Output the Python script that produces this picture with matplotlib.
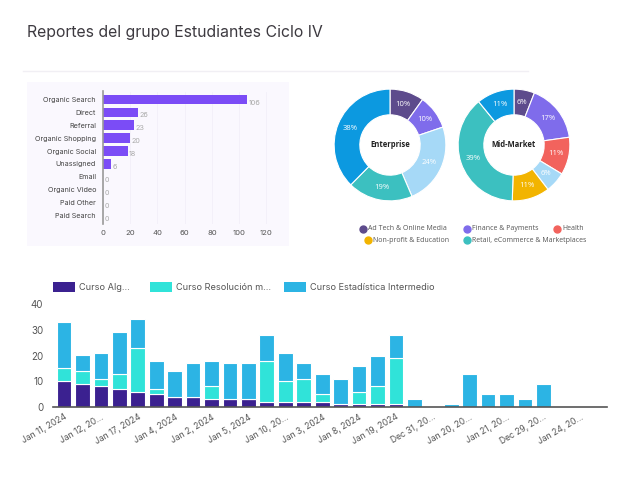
import numpy as np
import matplotlib.pyplot as plt
from matplotlib.patches import Rectangle
from matplotlib.lines import Line2D

plt.rcParams['font.family'] = ['Inter', 'DejaVu Sans']

# ---------------- datos ----------------
canales = ["Organic Search", "Direct", "Referral", "Organic Shopping",
           "Organic Social", "Unassigned", "Email", "Organic Video",
           "Paid Other", "Paid Search"]
sesiones = [106, 26, 23, 20, 18, 6, 0, 0, 0, 0]

industrias = ["Ad Tech & Online Media", "Finance & Payments", "Health",
              "(otra 1)", "Non-profit & Education",
              "Retail, eCommerce & Marketplaces", "(otra 2)"]
colores_ind = ["#5d4b8c", "#7f6ceb", "#f2635d", "#a6d9f7",
               "#f2b400", "#3cc0c0", "#0c99e0"]
enterprise = [10, 10, 0, 24, 0, 19, 38]
mid_market = [6, 17, 11, 6, 11, 39, 11]

series = ["Curso Alg…", "Curso Resolución m…", "Curso Estadística Intermedio"]
colores_series = ["#3b2190", "#30e3d9", "#2cb4e4"]
curso_alg = [10, 9, 8, 7, 6, 5, 4, 4, 3, 3, 3, 2, 2, 2, 2, 1, 1, 1, 1, 0,
             0, 0, 0, 0, 0, 0, 0, 0, 0]
curso_res = [5, 5, 3, 6, 17, 2, 0, 0, 5, 0, 0, 16, 8, 9, 3, 0, 5, 7, 18, 0,
             0, 0, 0, 0, 0, 0, 0, 0, 0]
curso_est = [18, 6, 10, 16, 11, 11, 10, 13, 10, 14, 14, 10, 11, 6, 8, 10, 10,
             12, 9, 3, 0, 1, 13, 5, 5, 3, 9, 0, 0]
fechas = ["Jan 11, 2024", "Jan 12, 20…", "Jan 17, 2024", "Jan 4, 2024",
          "Jan 2, 2024", "Jan 5, 2024", "Jan 10, 20…", "Jan 3, 2024",
          "Jan 8, 2024", "Jan 19, 2024", "Dec 31, 20…", "Jan 20, 20…",
          "Jan 21, 20…", "Dec 29, 20…", "Jan 24, 20…"]

W, H = 627, 494
fig = plt.figure(figsize=(W / 100, H / 100), dpi=100)
fig.patch.set_facecolor("white")


def box(x0, y0, x1, y1):
    # pixeles (origen arriba-izquierda) -> coordenadas de figura
    return [x0 / W, 1 - y1 / H, (x1 - x0) / W, (y1 - y0) / H]


# titulo y separador
fig.text(27 / W, 1 - 33 / H, "Reportes del grupo Estudiantes Ciclo IV",
         fontsize=11.4, color="#3d3a40", va="center", ha="left")
fig.add_artist(Line2D([23 / W, 528 / W], [1 - 71 / H, 1 - 71 / H],
                      color="#f1eff4", lw=1))

# ---------------- barras horizontales ----------------
panel = "#faf8fe"
fig.add_artist(Rectangle((27 / W, 1 - 246 / H), 262 / W, 164 / H,
                         transform=fig.transFigure, facecolor=panel,
                         edgecolor="none", zorder=0))
ax1 = fig.add_axes(box(103, 91.5, 280, 223.5))
ax1.set_facecolor(panel)
y = np.arange(len(canales))
ax1.barh(y, sesiones, height=0.72, color="#7b4cf6")
for yi, v in zip(y, sesiones):
    ax1.text(v + 1, yi + 0.25, str(v), fontsize=5.2, color="#aaaaaa",
             va="center", ha="left")
ax1.set_yticks(y)
ax1.set_yticklabels(canales, fontsize=5.2, color="#444444")
ax1.set_ylim(len(canales) - 0.4, -0.6)
ax1.set_xlim(0, 130)
ax1.set_xticks(range(0, 121, 20))
ax1.tick_params(axis="x", labelsize=5.5, colors="#555555", length=0, pad=5)
ax1.tick_params(axis="y", length=0, pad=5)
for s in ["top", "right", "bottom"]:
    ax1.spines[s].set_visible(False)
ax1.spines["left"].set_color("#9a9a9a")
ax1.spines["left"].set_linewidth(1.2)
ax1.grid(axis="x", color="#f2eff9", lw=0.6)
ax1.set_axisbelow(True)

# ---------------- donas ----------------
for valores, nombre, cx in [(enterprise, "Enterprise", 390),
                            (mid_market, "Mid-Market", 514)]:
    ax = fig.add_axes(box(cx - 57, 145 - 57, cx + 57, 145 + 57))
    vals = [v for v in valores if v > 0]
    cols = [c for v, c in zip(valores, colores_ind) if v > 0]
    ax.pie(vals, colors=cols, startangle=90, counterclock=False, radius=1,
           wedgeprops=dict(width=0.46, edgecolor="white", linewidth=0.8),
           autopct="%.0f%%", pctdistance=0.77,
           textprops=dict(color="white", fontsize=5.5, family="Open Sans"))
    ax.text(0, 0, nombre, ha="center", va="center", fontsize=5.5,
            fontweight="bold", color="#222222", family="Open Sans")
    ax.set_xlim(-1.02, 1.02)
    ax.set_ylim(-1.02, 1.02)
    ax.set_aspect("equal")

leyenda_pos = [(363, 229, 0), (467, 229, 1), (557, 229, 2),
               (368, 240, 4), (467, 240, 5)]
for px, py, i in leyenda_pos:
    fig.add_artist(Line2D([px / W], [1 - py / H], marker="o", markersize=5,
                          color=colores_ind[i], linestyle="none"))
    fig.text((px + 5) / W, 1 - py / H, industrias[i], fontsize=5.0,
             color="#555555", va="center", ha="left", family="Open Sans")

# ---------------- barras apiladas ----------------
ax2 = fig.add_axes(box(53, 304, 607, 407))
x = np.arange(len(curso_alg))
alg = np.array(curso_alg)
res = np.array(curso_res)
est = np.array(curso_est)
kw = dict(width=0.8, edgecolor="white", linewidth=0.8)
ax2.bar(x, alg, color=colores_series[0], label=series[0], **kw)
ax2.bar(x, res, bottom=alg, color=colores_series[1], label=series[1], **kw)
ax2.bar(x, est, bottom=alg + res, color=colores_series[2], label=series[2], **kw)
ax2.set_xlim(-0.6, len(x) + 0.45)
ax2.set_ylim(0, 40)
ax2.set_yticks(range(0, 41, 10))
ax2.set_xticks(x[::2])
ax2.set_xticklabels(fechas, rotation=30, ha="right", rotation_mode="anchor",
                    fontsize=6.2, color="#555555")
ax2.tick_params(axis="y", labelsize=7, colors="#555555", length=0, pad=7)
ax2.tick_params(axis="x", length=0, pad=4)
for s in ["top", "right", "left"]:
    ax2.spines[s].set_visible(False)
ax2.spines["bottom"].set_color("#555555")
ax2.spines["bottom"].set_linewidth(1.2)

# leyenda de cursos
for (px, txt, col) in zip([53, 150, 284], series, colores_series):
    fig.add_artist(Rectangle((px / W, 1 - 292 / H), 22 / W, 10 / H,
                             transform=fig.transFigure, facecolor=col,
                             edgecolor="none"))
    fig.text((px + 26) / W, 1 - 287 / H, txt, fontsize=6.6, color="#555555",
             va="center", ha="left")

fig.savefig("out.png", dpi=100)
